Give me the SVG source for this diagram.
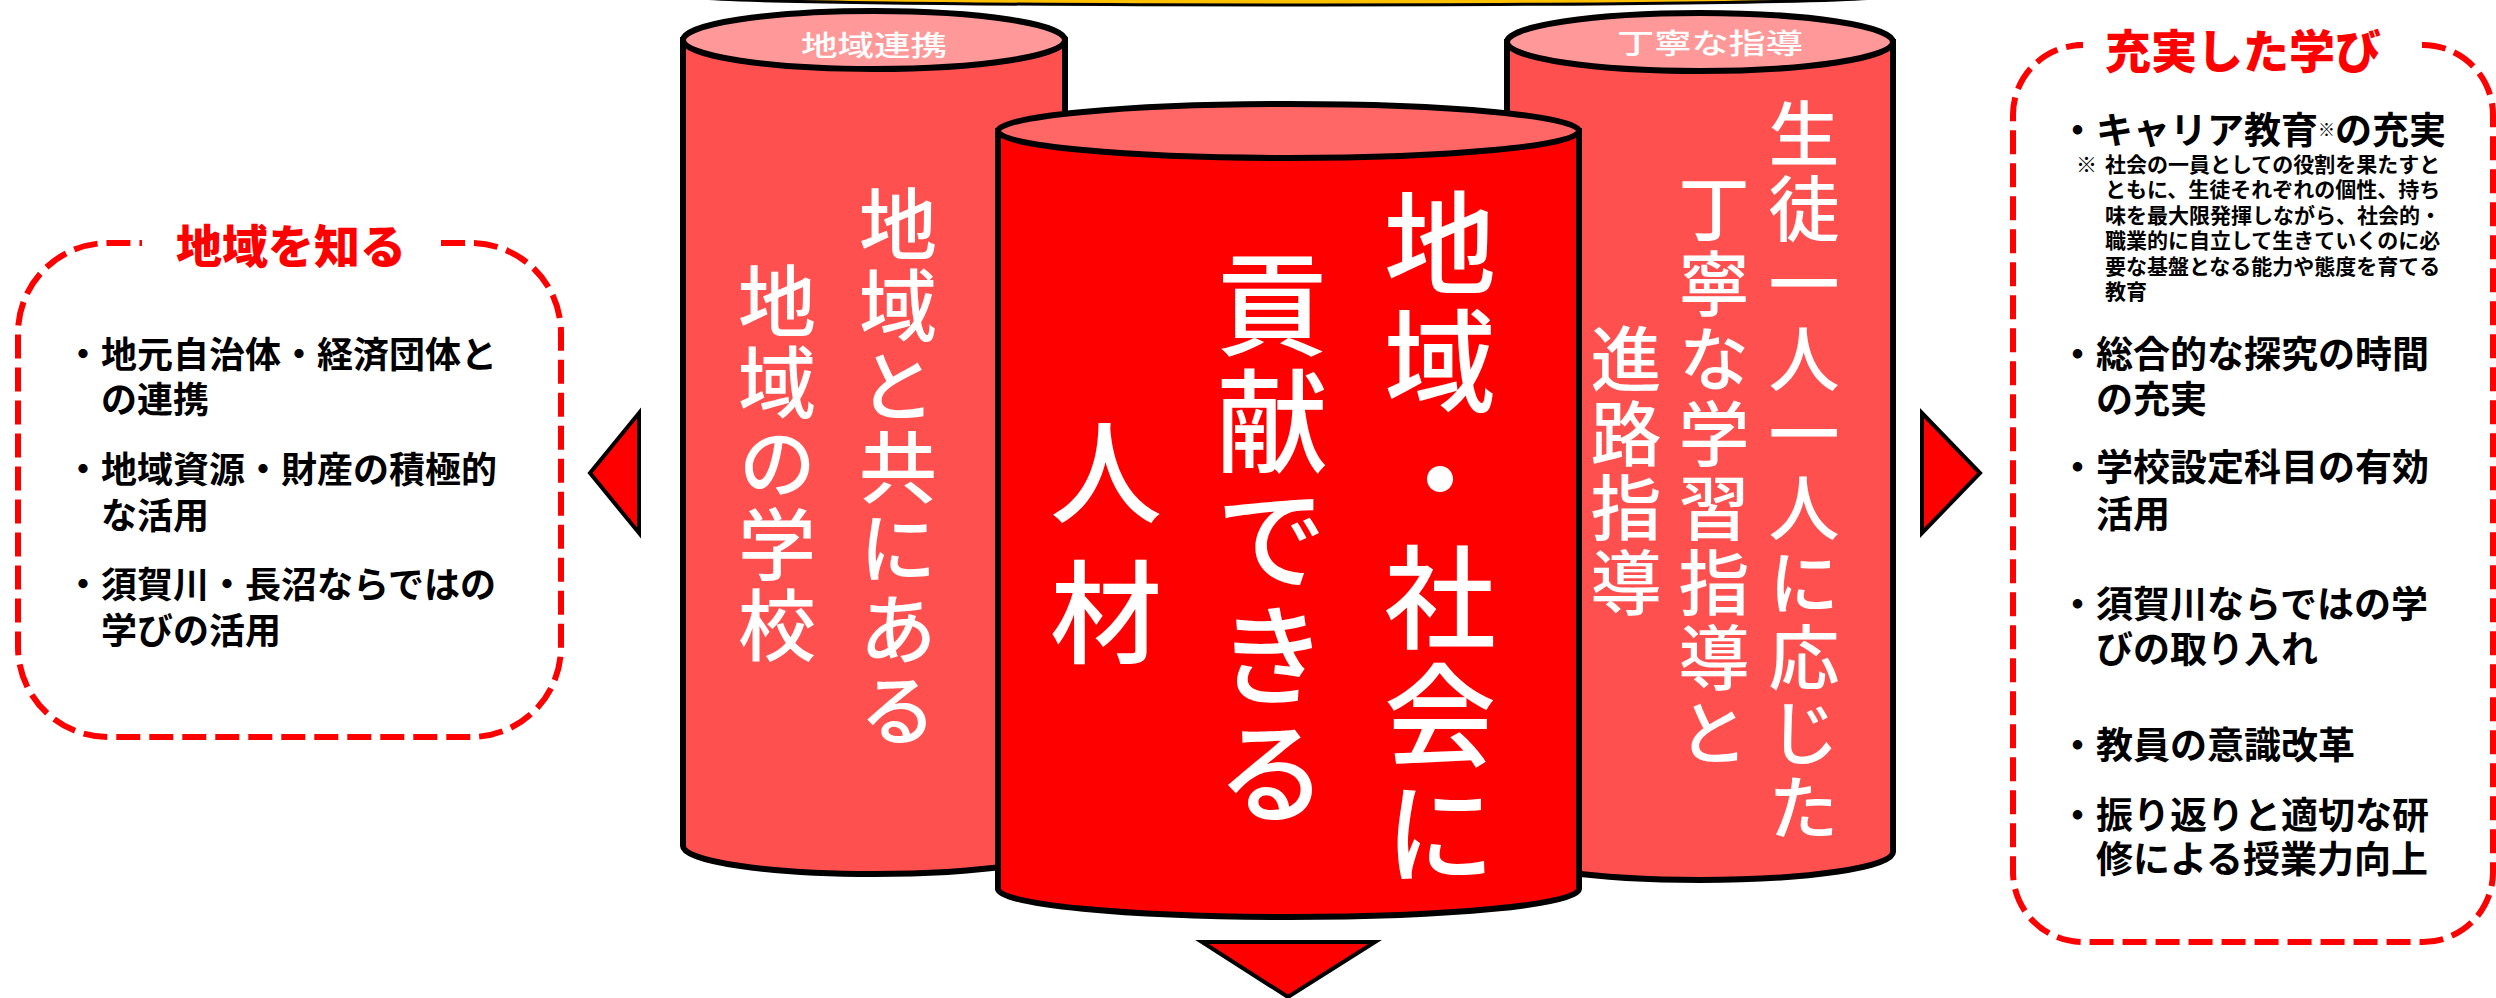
<svg xmlns="http://www.w3.org/2000/svg" width="2496" height="998" viewBox="0 0 2496 998">
<style>
.cjk{font-family:"Noto Sans CJK JP","Noto Sans CJK SC",sans-serif;}
.vt{fill:#fff;text-anchor:middle;font-weight:500;writing-mode:vertical-rl;}
.lbl{fill:#fff;text-anchor:middle;dominant-baseline:central;font-size:28px;font-weight:500;}
.cyl{stroke:#000;stroke-width:6;}
.side{fill:#FF5050;}
.sidetop{fill:#FF9999;}
.ctr{fill:#FF0000;}
.ctrtop{fill:#FF6666;}
.dash{fill:none;stroke:#FF0000;stroke-width:6;stroke-dasharray:24 9;}
.ttl{fill:#FF0000;font-weight:900;font-size:46px;text-anchor:middle;dominant-baseline:central;}
.item{fill:#000;font-weight:700;dominant-baseline:central;}
.arrow{fill:#FF0000;stroke:#000;stroke-width:4;}
</style>
<rect width="2496" height="998" fill="#fff"/>

<g id="node-top">
<ellipse cx="1288" cy="-3" rx="590" ry="8" fill="#FFC000" stroke="#000" stroke-width="3"/>
</g>

<g id="node-left-box" class="cjk">
<path class="dash" d="M441 243 H471 A90 90 0 0 1 561 333 V647 A90 90 0 0 1 471 737 H108 A90 90 0 0 1 18 647 V333 A90 90 0 0 1 108 243 H142"/>
<text class="ttl" x="291" y="243">地域を知る</text>
<text class="item" font-size="36" x="65" y="352">・地元自治体・経済団体と</text>
<text class="item" font-size="36" x="101" y="397">の連携</text>
<text class="item" font-size="36" x="65" y="467">・地域資源・財産の積極的</text>
<text class="item" font-size="36" x="101" y="513">な活用</text>
<text class="item" font-size="36" x="65" y="582">・須賀川・長沼ならではの</text>
<text class="item" font-size="36" x="101" y="628">学びの活用</text>
</g>

<g id="node-right-box" class="cjk">
<path class="dash" d="M2422 45 H2423 A70 70 0 0 1 2493 115 V872 A70 70 0 0 1 2423 942 H2083 A70 70 0 0 1 2013 872 V115 A70 70 0 0 1 2083 45 H2068"/>
<text class="ttl" x="2243" y="48">充実した学び</text>
<text class="item" font-size="37" x="2059" y="128">・キャリア教育<tspan font-size="17">※</tspan>の充実</text>
<text class="item" font-size="21" x="2076" y="163">※</text>
<text class="item" font-size="21" x="2105" y="163">社会の一員としての役割を果たすと</text>
<text class="item" font-size="21" x="2105" y="188.4">ともに、生徒それぞれの個性、持ち</text>
<text class="item" font-size="21" x="2105" y="213.8">味を最大限発揮しながら、社会的・</text>
<text class="item" font-size="21" x="2105" y="239.2">職業的に自立して生きていくのに必</text>
<text class="item" font-size="21" x="2105" y="264.6">要な基盤となる能力や態度を育てる</text>
<text class="item" font-size="21" x="2105" y="290">教育</text>
<text class="item" font-size="37" x="2059" y="352">・総合的な探究の時間</text>
<text class="item" font-size="37" x="2096" y="397">の充実</text>
<text class="item" font-size="37" x="2059" y="465">・学校設定科目の有効</text>
<text class="item" font-size="37" x="2096" y="512">活用</text>
<text class="item" font-size="37" x="2059" y="602">・須賀川ならではの学</text>
<text class="item" font-size="37" x="2096" y="647">びの取り入れ</text>
<text class="item" font-size="37" x="2059" y="743">・教員の意識改革</text>
<text class="item" font-size="37" x="2059" y="813">・振り返りと適切な研</text>
<text class="item" font-size="37" x="2096" y="857">修による授業力向上</text>
</g>

<g id="node-cyl-left" class="cjk">
<path class="cyl side" d="M683 40 V846 A191 28 0 0 0 1065 846 V40 Z"/>
<ellipse class="cyl sidetop" cx="874" cy="40" rx="191" ry="29"/>
<text class="lbl" x="874" y="44" textLength="146" lengthAdjust="spacingAndGlyphs">地域連携</text>
<text class="vt" font-size="78" letter-spacing="3" x="898" y="469">地域と共にある</text>
<text class="vt" font-size="78" letter-spacing="3" x="777" y="465">地域の学校</text>
</g>

<g id="node-cyl-right" class="cjk">
<path class="cyl side" d="M1507 42 V852 A193 28 0 0 0 1893 852 V42 Z"/>
<ellipse class="cyl sidetop" cx="1700" cy="42" rx="193" ry="29"/>
<text class="lbl" x="1710" y="42" textLength="186" lengthAdjust="spacingAndGlyphs">丁寧な指導</text>
<text class="vt" font-size="71" letter-spacing="3.8" x="1804" y="472">生徒一人一人に応じた</text>
<text class="vt" font-size="71" letter-spacing="3.8" x="1714" y="472">丁寧な学習指導と</text>
<text class="vt" font-size="71" letter-spacing="3.8" x="1626" y="472">進路指導</text>
</g>

<g id="node-cyl-center" class="cjk">
<path class="cyl ctr" d="M998 131 V889 A290.5 28 0 0 0 1579 889 V131 Z"/>
<ellipse class="cyl ctrtop" cx="1288.5" cy="131" rx="290.5" ry="27"/>
<text class="vt" font-size="112" letter-spacing="6" x="1440" y="541">地域・社会に</text>
<text class="vt" font-size="112" letter-spacing="5" x="1272" y="541">貢献できる</text>
<text class="vt" font-size="112" letter-spacing="28" x="1106" y="556">人材</text>
</g>

<g id="connectors">
<polygon class="arrow" points="590,473 639,413 639,533"/>
<polygon class="arrow" points="1922,413 1922,533 1980,473"/>
<polygon class="arrow" points="1202,942 1375,942 1288,997"/>
</g>
</svg>
